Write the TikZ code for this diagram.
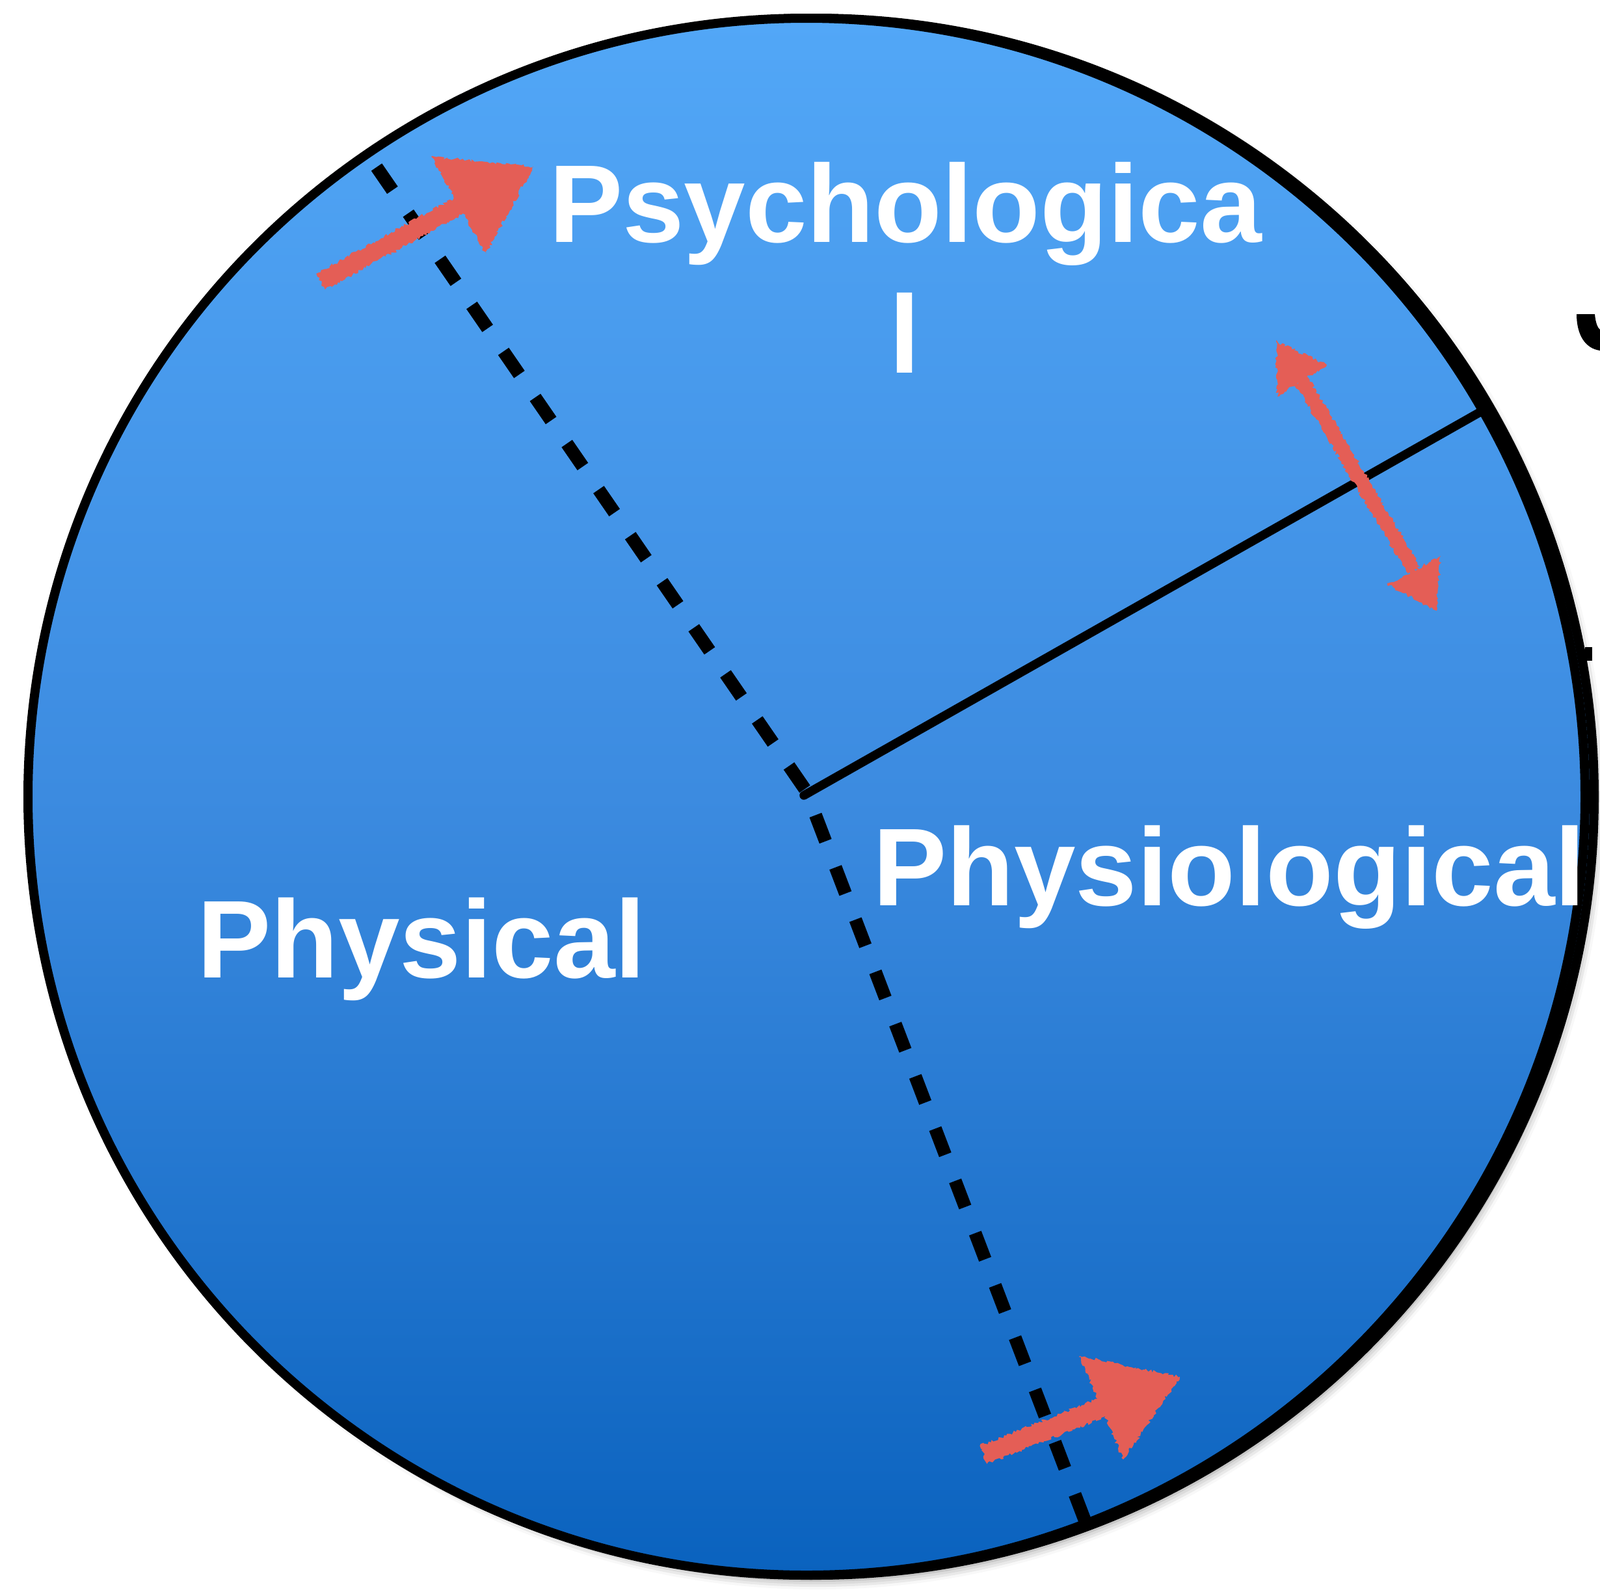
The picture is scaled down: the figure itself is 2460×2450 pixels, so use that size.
\documentclass[tikz,border=0pt]{standalone}
\usepackage{fontspec}
\setmainfont{Liberation Sans}
\usetikzlibrary{shadows.blur,decorations.pathmorphing,calc}
\definecolor{redarrow}{RGB}{228,94,86}
\definecolor{bluetop}{RGB}{82,167,247}
\definecolor{bluemid}{RGB}{60,139,224}
\definecolor{bluebot}{RGB}{10,98,190}
\begin{document}
\begin{tikzpicture}[x=1pt,y=-1pt,
  disc/.style={line width=14pt, draw=black, top color=bluetop, bottom color=bluebot, middle color=bluemid},
  divider/.style={line width=20pt, dash pattern=on 43pt off 43pt},
  rimline/.style={line width=13.5pt},
  sketchy/.style={fill=redarrow, decorate, decoration={random steps, segment length=3pt, amplitude=2.5pt}},
  lbl/.style={text=white, font=\bfseries\fontsize{170}{200}\selectfont, anchor=base, inner sep=0pt}]
\useasboundingbox (0,0) rectangle (2460,2450);
% discs
\coordinate (O2) at (1254,1225);
\coordinate (O) at (1240,1225);
\path[disc, blur shadow={shadow xshift=3pt, shadow yshift=-8pt, shadow blur radius=14pt, shadow opacity=45}] (O2) circle[radius=1197];
\path[disc] (O) circle[radius=1197];
% lines
\coordinate (V) at (1240,1217);
\coordinate (A) at (579,257);
\coordinate (B) at (1668,2338);
\coordinate (C) at (2282,630);
\draw[divider] (A) -- (V);
\draw[divider] (B) -- (V);
\draw[rimline, line cap=round] ($(V)+(-4,6)$) -- (C);
% labels
\node[lbl] (psy) at (1392,372) {Psychologica};
\node[lbl] (psyl) at (1391,573) {l};
\node[lbl] (phys) at (648,1503) {Physical};
\node[lbl] (physio) at (1890,1392) {Physiological};
% arrow 1 (top left)
\coordinate (t1) at (493,433);
\coordinate (m1) at (712,313);
\coordinate (h1a) at (663,241);
\coordinate (h1b) at (747,390);
\coordinate (h1c) at (820,256);
\path[sketchy] ($(t1)!14pt!90:(m1)$) -- ($(m1)!14pt!-90:(t1)$) -- ($(m1)!14pt!90:(t1)$) -- ($(t1)!14pt!-90:(m1)$) -- cycle;
\path[sketchy] (h1a) -- (h1c) -- (h1b) -- cycle;
% arrow 2 (bottom)
\coordinate (t2) at (1512,2237);
\coordinate (m2) at (1700,2162);
\coordinate (h2a) at (1660,2085);
\coordinate (h2b) at (1727,2244);
\coordinate (h2c) at (1814,2117);
\path[sketchy] ($(t2)!15pt!90:(m2)$) -- ($(m2)!15pt!-90:(t2)$) -- ($(m2)!15pt!90:(t2)$) -- ($(t2)!15pt!-90:(m2)$) -- cycle;
\path[sketchy] (h2a) -- (h2c) -- (h2b) -- cycle;
% arrow 3 (double)
\coordinate (m3a) at (2001,585);
\coordinate (m3b) at (2174,877);
\coordinate (h3a) at (2040,561);
\coordinate (h3b) at (1964,610);
\coordinate (h3c) at (1962,525);
\coordinate (h3d) at (2215,855);
\coordinate (h3e) at (2133,899);
\coordinate (h3f) at (2209,939);
\path[sketchy] ($(m3a)!11pt!90:(m3b)$) -- ($(m3b)!11pt!-90:(m3a)$) -- ($(m3b)!11pt!90:(m3a)$) -- ($(m3a)!11pt!-90:(m3b)$) -- cycle;
\path[sketchy] (h3a) -- (h3c) -- (h3b) -- cycle;
\path[sketchy] (h3d) -- (h3f) -- (h3e) -- cycle;
% cut-off fragments at the right edge
\coordinate (f1) at (2424,483);
\coordinate (f2) at (2452,483);
\coordinate (f3) at (2460,507);
\coordinate (f4) at (2460,539);
\fill (f1) -- (f2) .. controls (2453,495) and (2456,504) .. (f3) -- (f4) .. controls (2438,536) and (2424,516) .. (f1) -- cycle;
\coordinate (g1) at (2437,995);
\coordinate (g2) at (2448,1016);
\fill (g1) rectangle (g2);
\end{tikzpicture}
\end{document}
